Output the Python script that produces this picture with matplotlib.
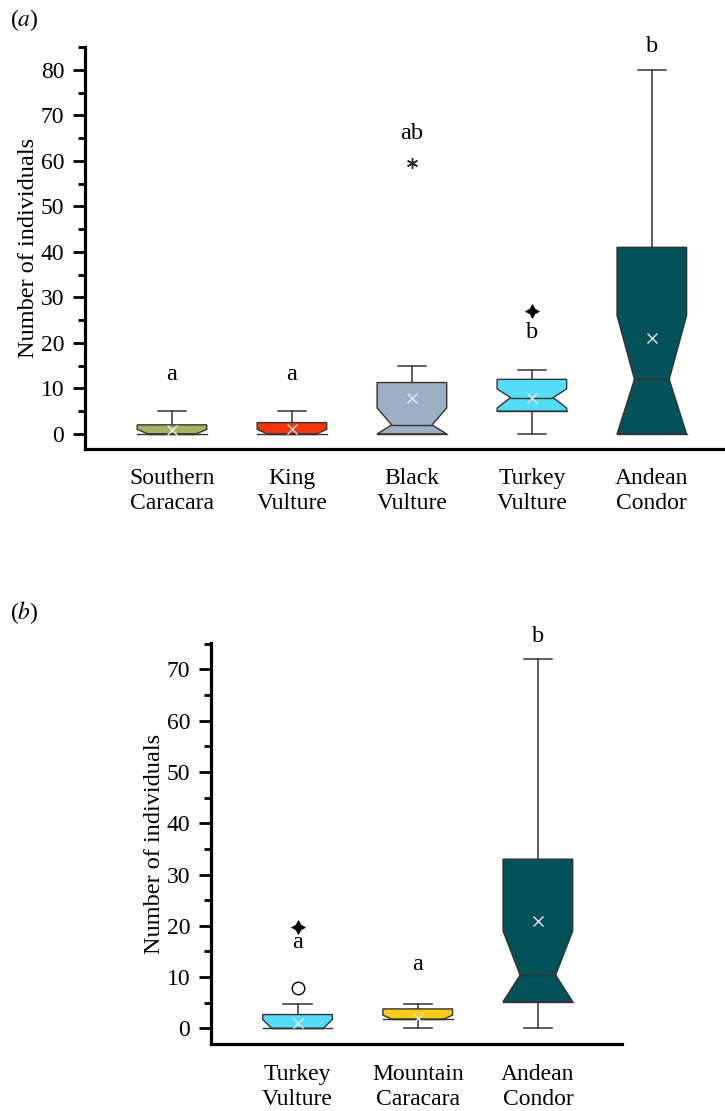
import matplotlib
matplotlib.use('Agg')
import matplotlib.pyplot as plt
from matplotlib.patches import Polygon
from matplotlib.ticker import MultipleLocator

plt.rcParams['font.family'] = ['Liberation Serif', 'DejaVu Serif']
plt.rcParams['mathtext.fontset'] = 'stix'

# ---------------- Panel (a) data ----------------
species_a = ['Southern\nCaracara', 'King\nVulture', 'Black\nVulture', 'Turkey\nVulture', 'Andean\nCondor']
whislo_a = [0, 0, 0, 0, 0]
q1_a = [0, 0, 0, 5, 0]
med_a = [0, 0, 2, 8, 12]
q3_a = [2.0, 2.5, 11.3, 12, 41]
whishi_a = [5, 5, 15, 14, 80]
notchlo_a = [0, 0, 0, 5.7, 0]
notchhi_a = [1.0, 1.0, 5.7, 9.9, 26]
mean_a = [0.9, 1.0, 7.8, 8, 21]
letters_a = ['a', 'a', 'ab', 'b', 'b']
letter_y_a = [11.9, 11.9, 64.8, 21.0, 83.8]
colors_a = ['#a4b55f', '#f5350f', '#9dafc4', '#55ddf7', '#03525a']
narrow_a = [0.68, 0.7, 0.58, 0.61, 0.5]
asterisk_a = [(3, 59.5)]          # (box index 1-based, value)
star_a = [(4, 27.1)]

# ---------------- Panel (b) data ----------------
species_b = ['Turkey\nVulture', 'Mountain\nCaracara', 'Andean\nCondor']
whislo_b = [0, 0, 0]
q1_b = [0, 1.8, 5.2]
med_b = [0, 1.8, 10.4]
q3_b = [2.7, 3.8, 33]
whishi_b = [4.7, 4.7, 72]
notchlo_b = [0, 1.8, 5.2]
notchhi_b = [1.75, 2.6, 19]
mean_b = [1.0, 2.0, 21]
letters_b = ['a', 'a', 'b']
letter_y_b = [15.6, 11.4, 75.4]
colors_b = ['#55ddf7', '#f8cc18', '#03525a']
narrow_b = [0.74, 0.75, 0.51]
circle_b = [(1, 7.8)]
star_b = [(1, 19.7)]

BOX_HALF = 0.29
CAP_HALF = 0.117
EDGE = '#333333'


def width_at(y, med, nl, nh, h, hn):
    if y >= nh:
        return h
    if y >= med:
        return hn + (h - hn) * (y - med) / (nh - med) if nh > med else h
    if y >= nl:
        return hn + (h - hn) * (med - y) / (med - nl) if med > nl else h
    return h


def draw_panel(ax, wlo, q1, med, q3, whi, nl, nh, mean, colors, narrow):
    for i in range(len(q1)):
        c = i + 1
        h = BOX_HALF
        hn = h * narrow[i]
        ys = sorted({q3[i], nh[i], med[i], nl[i], q1[i]}, reverse=True)
        ys = [y for y in ys if q1[i] <= y <= q3[i]]
        left = [(c - width_at(y, med[i], nl[i], nh[i], h, hn), y) for y in ys]
        right = [(c + width_at(y, med[i], nl[i], nh[i], h, hn), y) for y in ys[::-1]]
        poly = Polygon(left + right, closed=True, facecolor=colors[i],
                       edgecolor=EDGE, linewidth=1.0, zorder=2)
        ax.add_patch(poly)
        wm = width_at(med[i], med[i], nl[i], nh[i], h, hn)
        ax.plot([c - wm, c + wm], [med[i], med[i]], color=EDGE, lw=1.0, zorder=3)
        ax.plot([c - h, c + h], [q1[i], q1[i]], color=EDGE, lw=1.0, zorder=3)
        # whiskers
        if whi[i] > q3[i]:
            ax.plot([c, c], [q3[i], whi[i]], color=EDGE, lw=1.1, zorder=1)
            ax.plot([c - CAP_HALF, c + CAP_HALF], [whi[i], whi[i]], color=EDGE, lw=1.1, zorder=1)
        if wlo[i] < q1[i]:
            ax.plot([c, c], [wlo[i], q1[i]], color=EDGE, lw=1.1, zorder=1)
            ax.plot([c - CAP_HALF, c + CAP_HALF], [wlo[i], wlo[i]], color=EDGE, lw=1.1, zorder=1)
        ax.plot(c, mean[i], marker='x', color='#e8e8e8', ms=6.5, mew=1.0, zorder=4)


def style_axes(ax, labels, ylim, xlim):
    ax.set_xlim(*xlim)
    ax.set_ylim(*ylim)
    for s in ['top', 'right']:
        ax.spines[s].set_visible(False)
    for s in ['left', 'bottom']:
        ax.spines[s].set_linewidth(2.3)
    ax.yaxis.set_major_locator(MultipleLocator(10))
    ax.yaxis.set_minor_locator(MultipleLocator(5))
    ax.tick_params(axis='y', which='major', length=9, width=2, labelsize=17, pad=6)
    ax.tick_params(axis='y', which='minor', length=5, width=2)
    ax.set_xticks(range(1, len(labels) + 1))
    ax.set_xticklabels(labels, fontsize=17, linespacing=1.25)
    ax.tick_params(axis='x', length=0, pad=14)
    ax.set_ylabel('Number of individuals', fontsize=17.5, labelpad=1)


fig = plt.figure(figsize=(7.25, 11.11), dpi=100)

axa = fig.add_axes([85 / 725, 662 / 1111, 640 / 725, 402 / 1111])
draw_panel(axa, whislo_a, q1_a, med_a, q3_a, whishi_a, notchlo_a, notchhi_a,
           mean_a, colors_a, narrow_a)
style_axes(axa, species_a, (-3.3, 85), (0.275, 5.61))
for i, (t, y) in enumerate(zip(letters_a, letter_y_a)):
    axa.text(i + 1, y, t, ha='center', va='baseline', fontsize=17.5, clip_on=False)
for b, v in asterisk_a:
    axa.plot(b, v, marker=(6, 2, 0), color='#222222', ms=8, mew=1.0, zorder=4)
for b, v in star_a:
    axa.plot(b, v, marker=(4, 1, 0), color='black', ms=10, mew=0.5, zorder=4)

axb = fig.add_axes([211 / 725, 66.7 / 1111, 411 / 725, 401.6 / 1111])
draw_panel(axb, whislo_b, q1_b, med_b, q3_b, whishi_b, notchlo_b, notchhi_b,
           mean_b, colors_b, narrow_b)
style_axes(axb, species_b, (-3.1, 75.2), (0.28, 3.70))
for i, (t, y) in enumerate(zip(letters_b, letter_y_b)):
    axb.text(i + 1, y, t, ha='center', va='baseline', fontsize=17.5, clip_on=False)
for b, v in circle_b:
    axb.plot(b, v, marker='o', mfc='white', mec='black', ms=9, mew=1.0, zorder=4)
for b, v in star_b:
    axb.plot(b, v, marker=(4, 1, 0), color='black', ms=10, mew=0.5, zorder=4)

fig.text(10 / 725, 1 - 20 / 1111, r'($\mathit{a}$)', fontsize=17, va='center', ha='left')
fig.text(10 / 725, 1 - 613 / 1111, r'($\mathit{b}$)', fontsize=17, va='center', ha='left')

fig.savefig('out.png', dpi=100)
